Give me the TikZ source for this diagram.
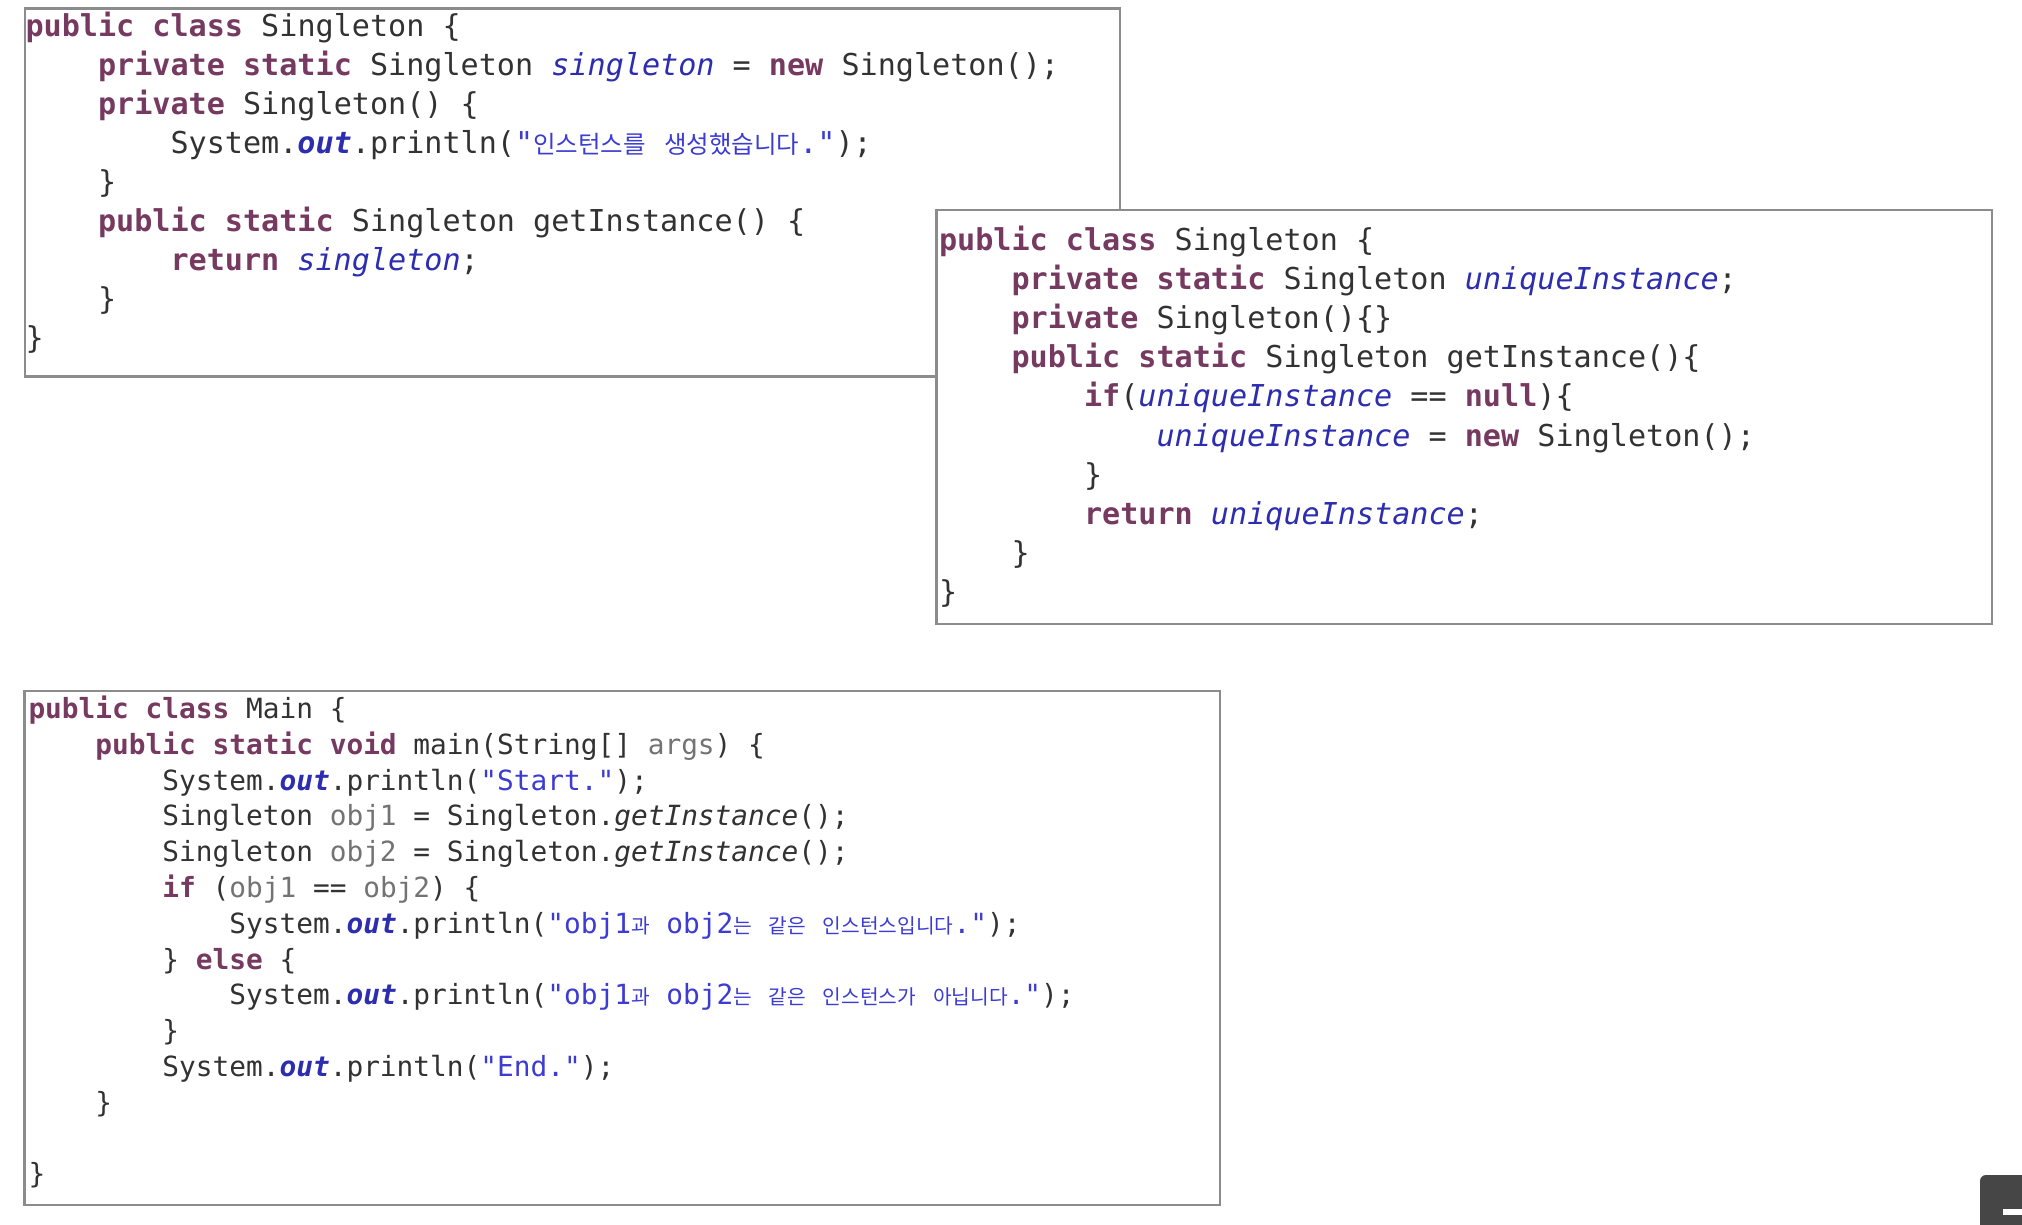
\documentclass[tikz,border=0pt]{standalone}
\usepackage{fontspec}
\newfontfamily\codefont{DejaVu Sans Mono}
\newfontfamily\krfont{Noto Sans CJK KR}
\definecolor{kwc}{RGB}{118,58,96}
\definecolor{txt}{RGB}{50,50,50}
\definecolor{fldc}{RGB}{45,45,175}
\definecolor{strc}{RGB}{60,60,210}
\definecolor{varc}{RGB}{115,115,115}
\definecolor{boxc}{RGB}{140,140,140}
\definecolor{uic}{RGB}{70,70,70}
\newcommand\kw[1]{{\bfseries\color{kwc}#1}}
\newcommand\fld[1]{{\itshape\color{fldc}#1}}
\newcommand\fldb[1]{{\bfseries\itshape\color{fldc}#1}}
\newcommand\str[1]{{\color{strc}#1}}
\newcommand\var[1]{{\color{varc}#1}}
\newcommand\mth[1]{{\itshape #1}}
\newcommand\KA[1]{{\krfont\fontsize{24.5}{39}\selectfont#1}}
\newcommand\KB[1]{{\krfont\fontsize{20.3}{36}\selectfont#1}}
\newcommand\codeA{\codefont\fontsize{30.12}{39.1}\selectfont}
\newcommand\codeB{\codefont\fontsize{27.8}{35.8}\selectfont}
\tikzset{
  codebox/.style={draw=boxc, line width=2.6pt, fill=white, inner sep=0pt, outer sep=0pt, anchor=north west},
  lineA/.style={anchor=base west, inner sep=0pt, outer sep=0pt, font=\codeA, text=txt},
  lineB/.style={anchor=base west, inner sep=0pt, outer sep=0pt, font=\codeB, text=txt},
}
\begin{document}
\begin{tikzpicture}[x=1pt,y=-1pt]
\useasboundingbox (0,0) rectangle (2022,1224);
\clip (0,0) rectangle (2022,1224);
\fill[white] (0,0) rectangle (2022,1224);

% ---------- Box 1 ----------
\def\xa{25.5}\def\cwa{18.13}
\node[codebox, minimum width=1095pt, minimum height=368pt] (box1) at (25,8.5) {};
\node[lineA] (a1) at (\xa,36.5) {\kw{public} \kw{class} Singleton \{};
\node[lineA] (a2) at (\xa+4*\cwa,75.5) {\kw{private} \kw{static} Singleton \fld{singleton} = \kw{new} Singleton();};
\node[lineA] (a3) at (\xa+4*\cwa,114.5) {\kw{private} Singleton() \{};
\node[lineA] (a4) at (\xa+8*\cwa,153.5) {System.\fldb{out}.println(\str{"\KA{인스턴스를} \KA{생성했습니다}."});};
\node[lineA] (a5) at (\xa+4*\cwa,192.5) {\}};
\node[lineA] (a6) at (\xa+4*\cwa,231.5) {\kw{public} \kw{static} Singleton getInstance() \{};
\node[lineA] (a7) at (\xa+8*\cwa,270.5) {\kw{return} \fld{singleton};};
\node[lineA] (a8) at (\xa+4*\cwa,309.5) {\}};
\node[lineA] (a9) at (\xa,348.5) {\}};

% ---------- Box 2 ----------
\def\xb{939}
\node[codebox, minimum width=1055.5pt, minimum height=414pt] (box2) at (936.5,210) {};
\node[lineA] (b1) at (\xb,250.5) {\kw{public} \kw{class} Singleton \{};
\node[lineA] (b2) at (\xb+4*\cwa,289.6) {\kw{private} \kw{static} Singleton \fld{uniqueInstance};};
\node[lineA] (b3) at (\xb+4*\cwa,328.7) {\kw{private} Singleton()\{\}};
\node[lineA] (b4) at (\xb+4*\cwa,367.8) {\kw{public} \kw{static} Singleton getInstance()\{};
\node[lineA] (b5) at (\xb+8*\cwa,406.9) {\kw{if}(\fld{uniqueInstance} == \kw{null})\{};
\node[lineA] (b6) at (\xb+12*\cwa,446.0) {\fld{uniqueInstance} = \kw{new} Singleton();};
\node[lineA] (b7) at (\xb+8*\cwa,485.1) {\}};
\node[lineA] (b8) at (\xb+8*\cwa,524.2) {\kw{return} \fld{uniqueInstance};};
\node[lineA] (b9) at (\xb+4*\cwa,563.3) {\}};
\node[lineA] (b10) at (\xb,602.4) {\}};

% ---------- Box 3 ----------
\def\xc{28.5}\def\cwc{16.74}
\node[codebox, minimum width=1195.5pt, minimum height=514pt] (box3) at (24.5,691) {};
\node[lineB] (c1) at (\xc,718.5) {\kw{public} \kw{class} Main \{};
\node[lineB] (c2) at (\xc+4*\cwc,754.3) {\kw{public} \kw{static} \kw{void} main(String[] \var{args}) \{};
\node[lineB] (c3) at (\xc+8*\cwc,790.1) {System.\fldb{out}.println(\str{"Start."});};
\node[lineB] (c4) at (\xc+8*\cwc,825.9) {Singleton \var{obj1} = Singleton.\mth{getInstance}();};
\node[lineB] (c5) at (\xc+8*\cwc,861.7) {Singleton \var{obj2} = Singleton.\mth{getInstance}();};
\node[lineB] (c6) at (\xc+8*\cwc,897.5) {\kw{if} (\var{obj1} == \var{obj2}) \{};
\node[lineB] (c7) at (\xc+12*\cwc,933.3) {System.\fldb{out}.println(\str{"obj1\KB{과} obj2\KB{는} \KB{같은} \KB{인스턴스입니다}."});};
\node[lineB] (c8) at (\xc+8*\cwc,969.1) {\} \kw{else} \{};
\node[lineB] (c9) at (\xc+12*\cwc,1004.9) {System.\fldb{out}.println(\str{"obj1\KB{과} obj2\KB{는} \KB{같은} \KB{인스턴스가} \KB{아닙니다}."});};
\node[lineB] (c10) at (\xc+8*\cwc,1040.7) {\}};
\node[lineB] (c11) at (\xc+8*\cwc,1076.5) {System.\fldb{out}.println(\str{"End."});};
\node[lineB] (c12) at (\xc+4*\cwc,1112.3) {\}};
\node[lineB] (c14) at (\xc,1183.9) {\}};

% ---------- corner UI element ----------
\fill[uic, rounded corners=6pt] (1980,1175) rectangle (2060,1260);
\fill[white] (2003,1209) rectangle (2030,1215);
\end{tikzpicture}
\end{document}
